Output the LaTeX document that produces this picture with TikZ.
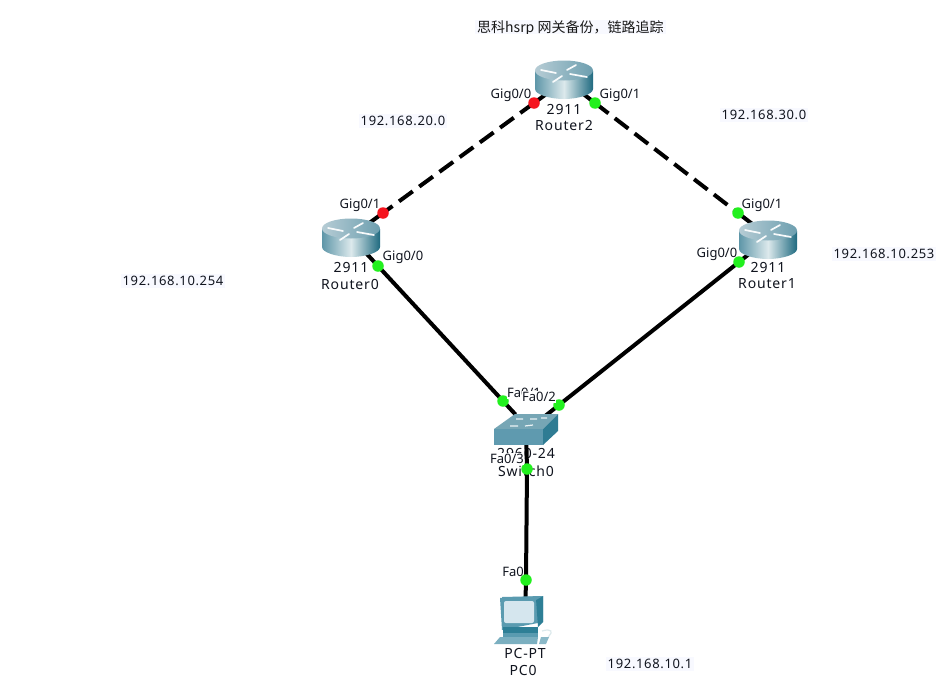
\documentclass[tikz,border=0pt]{standalone}
\usepackage{fontspec}
\setmainfont{Noto Sans}
\newfontfamily\cjk{Noto Sans CJK SC}
\newfontfamily\widefont[LetterSpace=6]{Noto Sans}
\newfontfamily\ipfont[LetterSpace=5]{Noto Sans}
\usetikzlibrary{calc}
\definecolor{rtop}{HTML}{A9C3CD}
\definecolor{rdark}{HTML}{1F6A80}
\definecolor{rmid}{HTML}{5E96A8}
\definecolor{rlight}{HTML}{DCE9EC}
\definecolor{swtop}{HTML}{76A6B5}
\definecolor{swfront}{HTML}{5F9AAF}
\definecolor{swside}{HTML}{2F7C93}
\definecolor{pcblue}{HTML}{5A9BB0}
\definecolor{pcdark}{HTML}{2E7F96}
\definecolor{pcscreen}{HTML}{D5E6EE}
\definecolor{portgreen}{HTML}{22F01E}
\definecolor{portred}{HTML}{F5141E}
\definecolor{lblbg}{HTML}{F8F9FF}
\definecolor{lbltext}{HTML}{10141E}
\tikzset{x=1pt,y=-1pt,
 link/.style={line width=4pt,black},
 dashlink/.style={link,dash pattern=on 17pt off 8pt},
 txt/.style={inner sep=0pt,yshift=-1pt,font=\fontsize{13}{15}\selectfont,text=lbltext},
 devtxt/.style={inner sep=0pt,yshift=-1pt,font=\widefont\fontsize{14}{15}\selectfont,text=lbltext},
 ip/.style={inner sep=0pt,font=\ipfont\fontsize{13}{15}\selectfont,text=lbltext,fill=lblbg,inner xsep=2pt,inner ysep=2pt},
 portup/.style={circle,fill=portgreen,minimum size=11.5pt,inner sep=0pt},
 portdn/.style={circle,fill=portred,minimum size=11.5pt,inner sep=0pt},
 rarrow/.style={white!92!rtop,line width=1.7pt,line cap=round},
 router/.pic={
  \shade[left color=rmid,right color=rdark,middle color=rlight] (-29,-9) -- (-29,9) .. controls (-29,14.5) and (-14,19) .. (0,19) .. controls (14,19) and (29,14.5) .. (29,9) -- (29,-9) -- cycle;
  \shade[left color=rtop!85!white,right color=rmid!80!rtop] (0,-9.5) ellipse[x radius=29,y radius=10];
  \draw[rarrow] (-23,-10) -- (-8,-7);
  \draw[rarrow] (3,-10) -- (12,-15);
  \draw[rarrow] (6,-6) -- (23,-3);
  \draw[rarrow] (-11,2) -- (-2,-4);
 }}
\begin{document}
\begin{tikzpicture}
\useasboundingbox (0,0) rectangle (942,696);
\fill[white] (0,0) rectangle (942,696);

% named device positions
\coordinate (Router2) at (564,80);
\coordinate (Router0) at (351,238);
\coordinate (Router1) at (768,240);
\coordinate (Switch0) at (526,430);
\coordinate (PC0) at (525,620);

% ports
\coordinate (p2a) at (534,103);
\coordinate (p2b) at (595,103);
\coordinate (p0a) at (383,213);
\coordinate (p0b) at (378,266);
\coordinate (p1a) at (738,213);
\coordinate (p1b) at (739,262);
\coordinate (swa) at (503,401);
\coordinate (swb) at (559,405);
\coordinate (swc) at (527,469);
\coordinate (pcp) at (526,580);

% links
\draw[dashlink] (p2a) -- (p0a);
\draw[dashlink] (p2b) -- (p1a);
\draw[link] ($(p2a)!-.1!(p0a)$) -- (p2a);
\draw[link] ($(p2b)!-.1!(p1a)$) -- (p2b);
\draw[link] (p0a) -- ($(p0a)!-.1!(p2a)$);
\draw[link] (p1a) -- ($(p1a)!-.1!(p2b)$);
\draw[link] ($(p0b)!-.1!(swa)$) -- ($(swa)!-.1!(p0b)$);
\draw[link] ($(p1b)!-.1!(swb)$) -- ($(swb)!-.1!(p1b)$);

% texts under the switch
\node[devtxt] (msw) at (526,452) {2960-24};
\node[devtxt] (nsw) at (526,470) {Switch0};
\draw[link] (Switch0) -- (swc) -- (pcp) -- (PC0);

% devices
\pic at (Router2) {router};
\pic at (Router0) {router};
\pic at (Router1) {router};

% switch
\fill[swtop] (494,429) -- (515,414) -- (558,414) -- (543,429) -- cycle;
\fill[swfront] (494,429) rectangle (543,445);
\fill[swside] (543,429) -- (558,414) -- (558,431) -- (543,445) -- cycle;
\draw[white!85!swtop,line width=1.2pt] (510,426) -- (518,426) (525,426) -- (533,425) (516,419) -- (523,419) (530,419) -- (537,419) (541,418) -- (547,418);

% PC
\fill[pcblue] (500,598) -- (543,596) -- (543,622) -- (502,630) -- cycle;
\fill[pcdark] (536,599) -- (543,596) -- (543,622) -- (538,627) -- cycle;
\fill[pcblue] (502,597) -- (543,596) -- (536,600) -- (502,600) -- cycle;
\fill[pcscreen,rounded corners=2pt] (504,601) rectangle (534,623);
\fill[pcdark] (503,627) -- (538,627) -- (538,633) -- (503,633) -- cycle;
\fill[pcblue] (503,633) rectangle (538,637);
\fill[pcblue!80!white] (500,637) -- (538,637) -- (537,644) -- (494,644) -- cycle;
\draw[rlight,line width=1.2pt] (542,631) .. controls (552,628) and (553,632) .. (549,636) .. controls (546,640) and (547,642) .. (545,643);
\fill[pcblue!70!white] (541,637) -- (549,637) -- (546,644) -- (539,644) -- cycle;

% port dots
\node[portdn] (d2a) at (p2a) {};
\node[portup] (d2b) at (p2b) {};
\node[portdn] (d0a) at (p0a) {};
\node[portup] (d0b) at (p0b) {};
\node[portup] (d1a) at (p1a) {};
\node[portup] (d1b) at (p1b) {};
\node[portup] (dsa) at (swa) {};
\node[portup] (dsb) at (swb) {};
\node[portup] (dsc) at (swc) {};
\node[portup] (dpc) at (pcp) {};

% texts
\begin{scope}
\clip (470,15) rectangle (672,33.5);
\node[inner sep=0pt,fill=lblbg,inner xsep=2pt,inner ysep=0pt,anchor=west,font=\cjk\fontsize{14}{15}\selectfont,text=black!90] (title) at (475,28) {思科hsrp 网关备份，链路追踪};
\end{scope}
\node[ip] (ip20) at (403,121) {192.168.20.0};
\node[ip] (ip30) at (764,115) {192.168.30.0};
\node[ip] (ipr0) at (173,281) {192.168.10.254};
\node[ip] (ipr1) at (884,254) {192.168.10.253};
\node[ip] (ippc) at (650,664) {192.168.10.1};

\node[txt] (t2a) at (511,94) {Gig0/0};
\node[txt] (t2b) at (620,94) {Gig0/1};
\node[txt] (t0a) at (360,204) {Gig0/1};
\node[txt] (t0b) at (403,256) {Gig0/0};
\node[txt] (t1a) at (762,204) {Gig0/1};
\node[txt] (t1b) at (717,253) {Gig0/0};

\node[devtxt] (m2) at (564,109) {2911};
\node[devtxt] (n2) at (564,125) {Router2};
\node[devtxt] (m0) at (351,266) {2911};
\node[devtxt] (n0) at (350,283) {Router0};
\node[devtxt] (m1) at (768,266) {2911};
\node[devtxt] (n1) at (767,283) {Router1};

\node[txt,fill=white,inner ysep=1pt] (f1) at (524,392) {Fa0/1};
\node[txt,fill=white,inner ysep=1pt] (f2) at (539,396) {Fa0/2};
\node[txt,fill=white,inner ysep=1pt] (f3) at (507,458) {Fa0/3};
\node[txt] (f0) at (513,571) {Fa0};
\node[devtxt] (mpc) at (525,652) {PC-PT};
\node[devtxt] (npc) at (523,669) {PC0};
\end{tikzpicture}
\end{document}
